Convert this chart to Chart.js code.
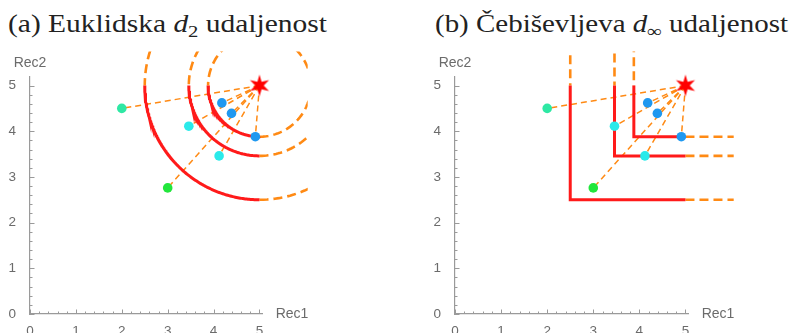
<!DOCTYPE html>
<html>
<head>
<meta charset="utf-8">
<script src="https://cdn.jsdelivr.net/npm/chart.js@4.4.1/dist/chart.umd.min.js"></script>
<style>
  html, body { margin: 0; padding: 0; background: #fff; overflow: hidden; width: 795px; height: 333px; }
  .title { position: absolute; top: 9px; font-family: "Liberation Serif", serif; font-size: 24.5px; line-height: 30px;
           color: #222; white-space: nowrap; transform-origin: left top; }
  .title sub { font-size: 70%; line-height: 0; vertical-align: -0.28em; }
  canvas { position: absolute; top: 0; }
</style>
</head>
<body>
<div class="title" id="titleA" style="left:8px">(a) Euklidska <i>d</i><sub>2</sub> udaljenost</div>
<div class="title" id="titleB" style="left:435px">(b) Čebiševljeva <i>d</i><sub>∞</sub> udaljenost</div>
<canvas id="chartA" width="398" height="345" style="left:0"></canvas>
<canvas id="chartB" width="397" height="345" style="left:398px"></canvas>
<script>
"use strict";

// query point (the star) and its neighbours
const queryX = 5;
const queryY = 5;
const neighbourX = [2.0, 3.46, 4.18, 4.39, 4.91, 4.12, 3.0];
const neighbourY = [4.5, 4.11, 4.62, 4.39, 3.88, 3.46, 2.76];
const neighbourColors = ["#2ee8a4", "#2aeaea", "#1f98f0", "#1f98f0", "#1f98f0", "#2aeaea", "#22e63c"];
// radii of the drawn balls around the query point
const ballRadii = [1.12, 1.54, 2.5];
const tickValues = [0, 1, 2, 3, 4, 5];
const axisNames = ["Rec1", "Rec2"];

const RED = "#ff1a1a";
const ORANGE = "#ff8a14";
const AXIS = "#9a9a9a";
const LABEL = "#6b6b6b";
const overflow = { left: 0, top: 25, right: 45, bottom: 0 };

Chart.defaults.font.family = "'Liberation Sans', Arial, sans-serif";

function starImage() {
    let c = document.createElement("canvas");
    c.width = 24; c.height = 24;
    let g = c.getContext("2d");
    g.fillStyle = "#ff0000";
    g.beginPath();
    for (let i = 0; i < 12; i++) {
        let r = i % 2 === 0 ? 11 : 4.2;
        let a = -Math.PI / 2 + i * Math.PI / 6;
        let px = 12 + r * Math.cos(a), py = 12 + r * Math.sin(a);
        if (i === 0) g.moveTo(px, py); else g.lineTo(px, py);
    }
    g.closePath();
    g.fill();
    return c;
}

function arcPoints(r, fromDeg, toDeg) {
    let pts = [];
    let steps = 140;
    for (let i = 0; i <= steps; i++) {
        let a = (fromDeg + (toDeg - fromDeg) * i / steps) * Math.PI / 180;
        pts.push({ x: queryX + r * Math.cos(a), y: queryY + r * Math.sin(a) });
    }
    return pts;
}

function lineSet(data, color, width, dash) {
    return {
        data: data,
        showLine: true,
        borderColor: color,
        borderWidth: width,
        borderDash: dash,
        pointRadius: 0,
        pointHoverRadius: 0,
        fill: false,
        clip: overflow
    };
}

function buildDatasets(kind) {
    let sets = [];
    sets.push({
        data: [{ x: queryX, y: queryY }],
        pointStyle: starImage(),
        pointRadius: 12,
        clip: overflow
    });
    sets.push({
        data: neighbourX.map((x, i) => ({ x: x, y: neighbourY[i] })),
        pointRadius: 4.8,
        pointBackgroundColor: neighbourColors,
        pointBorderWidth: 0,
        clip: overflow
    });
    ballRadii.forEach(r => {
        let solid, dashed;
        if (kind === "euclid") {
            solid = arcPoints(r, 180, 270);
            dashed = arcPoints(r, 270, 540);
        } else {
            solid = [{ x: queryX - r, y: queryY }, { x: queryX - r, y: queryY - r }, { x: queryX, y: queryY - r }];
            dashed = [{ x: queryX, y: queryY - r }, { x: queryX + r, y: queryY - r }, { x: queryX + r, y: queryY + r },
                      { x: queryX - r, y: queryY + r }, { x: queryX - r, y: queryY }];
        }
        sets.push(lineSet(solid, RED, 3, []));
        sets.push(lineSet(dashed, ORANGE, 2.6, [9, 5]));
    });
    neighbourX.forEach((x, i) => {
        sets.push(lineSet([{ x: queryX, y: queryY }, { x: x, y: neighbourY[i] }], ORANGE, 1.5, [6, 4]));
    });
    return sets;
}

const axisDecor = {
    id: "axisDecor",
    afterDraw(chart) {
        let { ctx, chartArea, scales: { x, y } } = chart;
        let x0 = x.getPixelForValue(0), y0 = y.getPixelForValue(0);
        ctx.save();
        ctx.strokeStyle = AXIS;
        ctx.lineWidth = 1;
        tickValues.forEach(t => {
            for (let k = 0; k < 5; k++) {
                let v = t + k * 0.2;
                if (v > 5.001) break;
                let len = k === 0 ? 4.5 : 2.5;
                let px = Math.round(x.getPixelForValue(v)) + 0.5;
                let py = Math.round(y.getPixelForValue(v)) + 0.5;
                ctx.beginPath();
                ctx.moveTo(px, y0); ctx.lineTo(px, y0 - len);
                ctx.moveTo(x0, py); ctx.lineTo(x0 + len, py);
                ctx.stroke();
            }
        });
        ctx.fillStyle = LABEL;
        ctx.font = "14px 'Liberation Sans', Arial, sans-serif";
        ctx.textBaseline = "middle";
        ctx.textAlign = "left";
        ctx.fillText(axisNames[0], chartArea.right + 13, y0);
        ctx.textAlign = "center";
        ctx.fillText(axisNames[1], x0, chartArea.top - 13);
        ctx.restore();
    }
};

function makeChart(id, kind, padLeft, padRight) {
    return new Chart(document.getElementById(id), {
        type: "scatter",
        data: { datasets: buildDatasets(kind) },
        options: {
            responsive: false,
            animation: false,
            events: [],
            layout: { padding: { left: padLeft, right: padRight, top: 76.4, bottom: 11 } },
            plugins: { legend: { display: false }, tooltip: { enabled: false } },
            scales: {
                x: {
                    type: "linear", min: 0, max: 5.07,
                    afterBuildTicks: s => { s.ticks = tickValues.map(v => ({ value: v })); },
                    afterFit: s => { s.height = 20; },
                    grid: { display: false },
                    border: { display: true, color: AXIS, width: 1.2 },
                    ticks: { color: LABEL, font: { size: 13.5 }, padding: 1, maxRotation: 0, autoSkip: false,
                             callback: v => String(v) }
                },
                y: {
                    type: "linear", min: 0, max: 5.2,
                    afterBuildTicks: s => { s.ticks = tickValues.map(v => ({ value: v })); },
                    afterFit: s => { s.width = 30; },
                    grid: { display: false },
                    border: { display: true, color: AXIS, width: 1.2 },
                    ticks: { color: LABEL, font: { size: 13.5 }, padding: 6, autoSkip: false,
                             callback: v => String(v) }
                }
            }
        },
        plugins: [axisDecor]
    });
}

makeChart("chartA", "euclid", 0, 135.3);
makeChart("chartB", "cheb", 27, 106.3);

function fitTitle(id, target) {
    let el = document.getElementById(id);
    let w = el.getBoundingClientRect().width;
    el.style.transform = "scaleX(" + (target / w) + ")";
}
fitTitle("titleA", 319);
fitTitle("titleB", 353);
</script>
</body>
</html>
